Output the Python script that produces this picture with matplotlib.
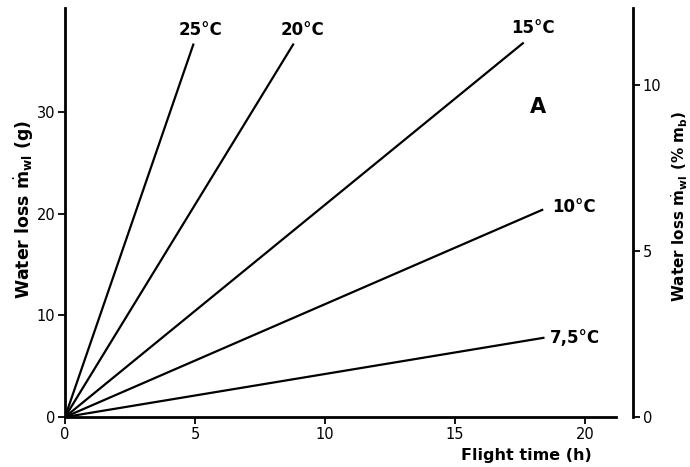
import matplotlib
matplotlib.use("Agg")
from matplotlib import pyplot as plt

plt.rcParams['font.family'] = ['DejaVu Sans']
plt.rcParams['mathtext.fontset'] = 'dejavusans'

# line end points (all lines start at the origin)
temps = ["25°C", "20°C", "15°C", "10°C", "7,5°C"]
end_x = [4.95, 8.8, 17.65, 18.4, 18.45]
end_y = [36.7, 36.7, 36.8, 20.4, 7.8]

x_ticks = [0, 5, 10, 15, 20]
y_ticks = [0, 10, 20, 30]
pct_ticks = [0, 5, 10]
body_mass = 326.0  # g, so that 10 % sits at ~32.6 g

fig = plt.figure(figsize=(6.9, 4.67), dpi=100)
ax = fig.add_axes([0.0942, 0.107, 0.823, 0.876])

for t, xe, ye in zip(temps, end_x, end_y):
    ax.plot([0, xe], [0, ye], color='black', lw=1.6, solid_capstyle='butt')

ax.set_xlim(0, 21.85)
ax.set_ylim(0, 40.2)
ax.spines['top'].set_visible(False)
ax.spines['right'].set_visible(False)
ax.spines['bottom'].set_bounds(0, 21.2)
for s in ['left', 'bottom']:
    ax.spines[s].set_linewidth(2)

ax.set_xticks(x_ticks)
ax.set_yticks(y_ticks)
ax.tick_params(direction='out', length=5, width=1.3, labelsize=10.5, pad=2)

# right axis: water loss as % of body mass
ax2 = ax.twinx()
ax2.set_ylim(0, 40.2 / body_mass * 100)
ax2.set_yticks(pct_ticks)
for s in ['top', 'left', 'bottom']:
    ax2.spines[s].set_visible(False)
ax2.spines['right'].set_linewidth(2)
ax2.tick_params(direction='out', length=5, width=1.3, labelsize=10.5, pad=2)

# line labels
lab = dict(fontsize=12, fontweight='bold', va='center')
ax.text(5.2, 38.0, temps[0], ha='center', **lab)
ax.text(9.15, 38.0, temps[1], ha='center', **lab)
ax.text(18.0, 38.2, temps[2], ha='center', **lab)
ax.text(18.75, 20.6, temps[3], ha='left', **lab)
ax.text(18.65, 7.8, temps[4], ha='left', **lab)
ax.text(18.2, 30.5, "A", fontsize=15, fontweight='bold', ha='center', va='center')

ax.set_xlabel("Flight time (h)", fontsize=11.5, fontweight='bold', ha='right', va='center')
ax.xaxis.set_label_coords(0.928, -0.093)
ax.set_ylabel(r"Water loss $\dot{\mathbf{m}}_{\mathbf{wl}}$ (g)", fontsize=12.5,
              fontweight='bold', va='center')
ax.yaxis.set_label_coords(-0.072, 0.508)
ax2.set_ylabel(r"Water loss $\dot{\mathbf{m}}_{\mathbf{wl}}$ (% $\mathbf{m_b}$)", fontsize=11,
               fontweight='bold', rotation=90, va='center')
ax2.yaxis.set_label_coords(1.083, 0.516)

fig.savefig("out.png", dpi=100)
